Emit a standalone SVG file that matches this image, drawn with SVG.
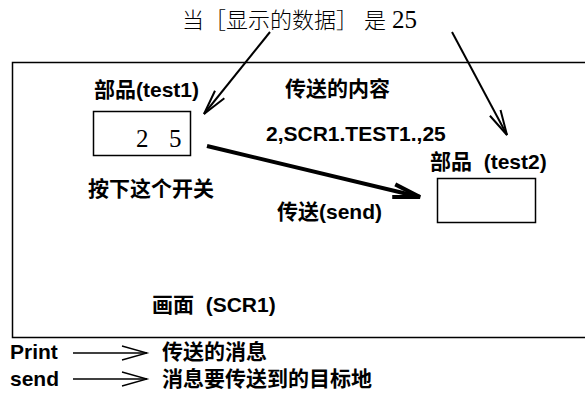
<svg xmlns="http://www.w3.org/2000/svg" width="585" height="394" viewBox="0 0 585 394">
<style>
.b{font-family:"Liberation Sans","Noto Sans CJK SC",sans-serif;font-weight:bold;font-size:21px;fill:#000}
.s{font-family:"Liberation Serif","Noto Sans CJK SC",serif;font-size:25px;fill:#000}
.top{font-family:"Noto Sans CJK SC","Liberation Serif",serif;font-weight:300;font-size:22px;fill:#000}
.box{fill:#fff;stroke:#000;stroke-width:1.5}
.ln{fill:none;stroke:#000}
</style>
<defs>
<marker id="ah" markerUnits="userSpaceOnUse" markerWidth="40" markerHeight="20" viewBox="-30 -10 40 20" refX="0" refY="0" orient="auto" overflow="visible">
<path d="M-25,-6 L0,0 L-25,6" fill="none" stroke="#000" stroke-width="2"/>
</marker>
<marker id="ahb" markerUnits="userSpaceOnUse" markerWidth="40" markerHeight="20" viewBox="-30 -10 40 20" refX="0" refY="0" orient="auto" overflow="visible">
<path d="M-27,-6.5 L0,0 L-27,6.5" fill="none" stroke="#000" stroke-width="4"/>
</marker>
<marker id="ahl" markerUnits="userSpaceOnUse" markerWidth="40" markerHeight="20" viewBox="-30 -10 40 20" refX="0" refY="0" orient="auto" overflow="visible">
<path d="M-25,-7 L0,0 L-25,7" fill="none" stroke="#000" stroke-width="1.3"/>
</marker>
</defs>
<rect width="585" height="394" fill="#fff"/>

<g id="caption">
<text class="top" x="182" y="28">当［显示的数据］<tspan x="364">是</tspan> <tspan x="392" font-family="Liberation Serif" font-weight="normal" font-size="25">25</tspan></text>
</g>

<g id="screen">
<path class="ln" stroke-width="1.5" d="M590,62.5 H12.5 V337.5 H590"/>
<text class="b" x="152" y="312" xml:space="preserve">画面  (SCR1)</text>
</g>

<g id="test1">
<text class="b" x="94" y="97">部品(test1)</text>
<rect class="box" x="93.5" y="111.5" width="97" height="44"/>
<text class="s" x="136" y="147">2 <tspan x="169">5</tspan></text>
<text class="b" x="88" y="196">按下这个开关</text>
</g>

<g id="test2">
<text class="b" x="430" y="169" xml:space="preserve">部品  (test2)</text>
<rect class="box" x="437.5" y="178.5" width="98" height="44"/>
</g>

<g id="message">
<text class="b" x="285" y="96">传送的内容</text>
<text class="b" x="266" y="141">2,SCR1.TEST1.,25</text>
<text class="b" x="277" y="219">传送(send)</text>
</g>

<g id="legend">
<text class="b" x="10" y="359">Print</text>
<text class="b" x="162" y="359">传送的消息</text>
<text class="b" x="10" y="386">send</text>
<text class="b" x="162" y="386">消息要传送到的目标地</text>
</g>

<g id="connectors">
<line class="ln" stroke-width="2" x1="270" y1="32" x2="204" y2="114" marker-end="url(#ah)"/>
<line class="ln" stroke-width="2" x1="452" y1="32" x2="507" y2="135" marker-end="url(#ah)"/>
<line class="ln" stroke-width="4" x1="207" y1="146" x2="420" y2="197" marker-end="url(#ahb)"/>
<line class="ln" stroke-width="1.3" x1="73" y1="353" x2="147" y2="353" marker-end="url(#ahl)"/>
<line class="ln" stroke-width="1.3" x1="73" y1="379" x2="147" y2="379" marker-end="url(#ahl)"/>
</g>
</svg>
